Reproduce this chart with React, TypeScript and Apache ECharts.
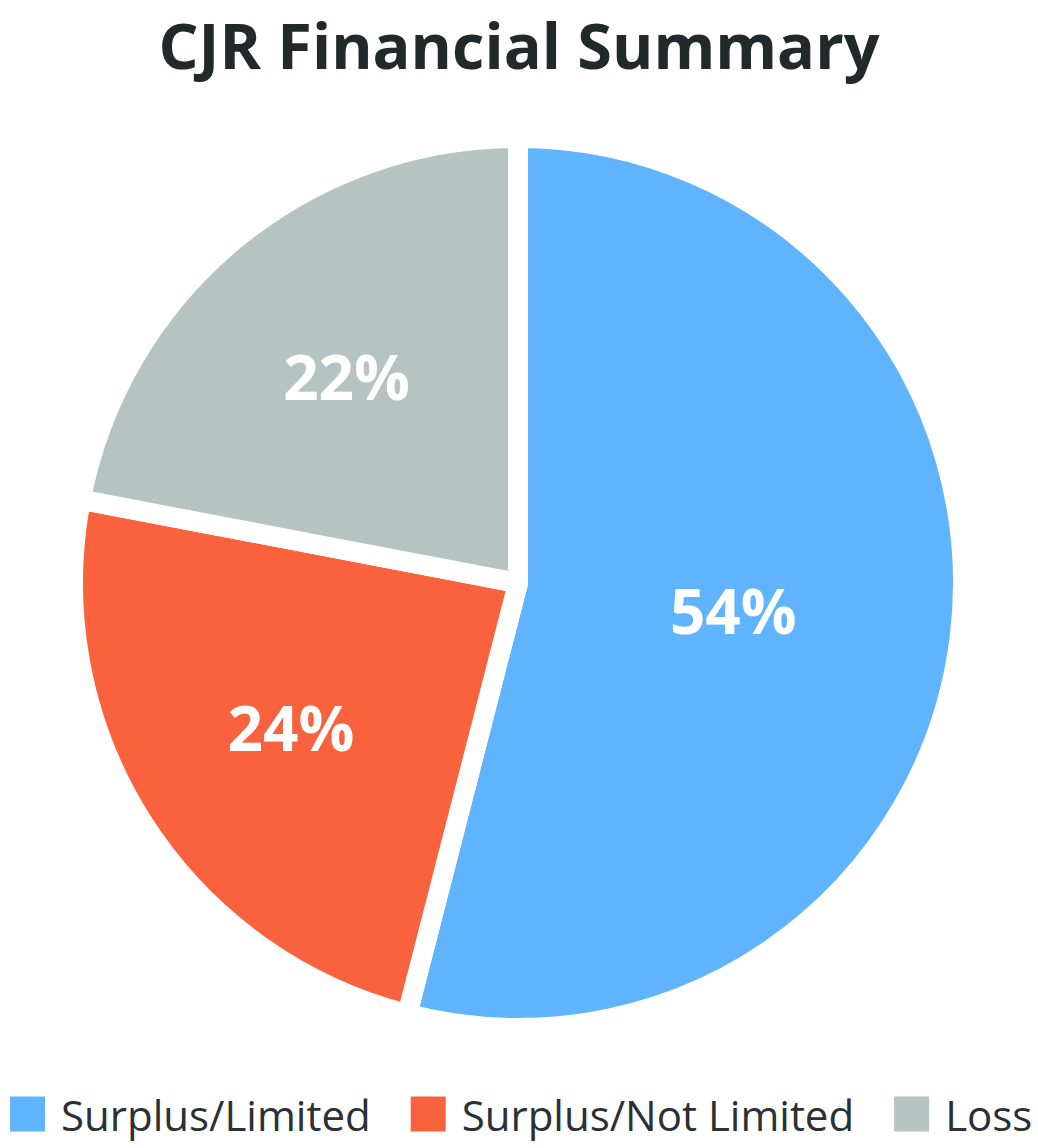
import React, { useEffect, useRef } from "react";
import * as echarts from "echarts";

const categories = ["Surplus/Limited", "Surplus/Not Limited", "Loss"];
const values = [54, 24, 22];
const colors = ["#60B4FE", "#F9623C", "#B5C4C2"];
const titleText = "CJR Financial Summary";

export default function App() {
  const ref = useRef<HTMLDivElement>(null);
  useEffect(() => {
    document.body.style.margin = "0";
    const chart = echarts.init(ref.current!, undefined, { renderer: "svg" });
    const labelStyle = {
      position: "inside",
      formatter: "{c}%",
      color: "#ffffff",
      fontFamily: "Open Sans",
      fontWeight: "bold",
      fontSize: 62,
    };
    const labelSeries = (radius: number, showIdx: number[]) => ({
      type: "pie",
      center: [518, 583],
      radius,
      startAngle: 90,
      clockwise: true,
      silent: true,
      z: 5,
      data: categories.map((name, i) => ({
        name,
        value: values[i],
        itemStyle: { color: "rgba(0,0,0,0)" },
        label: { show: showIdx.includes(i) },
      })),
      itemStyle: { borderWidth: 0 },
      label: labelStyle,
      labelLine: { show: false },
      emphasis: { disabled: true },
    });
    chart.setOption({
      animation: false,
      title: {
        text: titleText,
        left: "center",
        top: 6,
        textStyle: {
          fontFamily: "Open Sans",
          fontWeight: "bold",
          fontSize: 63,
          lineHeight: 66,
          color: "#22292B",
        },
      },
      legend: {
        bottom: 13,
        left: 8,
        width: 1200,
        padding: 0,
        itemWidth: 37,
        itemHeight: 37,
        itemGap: 38,
        icon: "rect",
        textStyle: {
          fontFamily: "Open Sans",
          fontSize: 42,
          lineHeight: 37,
          color: "#2A3033",
          padding: [0, 0, 0, 10],
        },
        data: categories,
      },
      series: [
        {
          type: "pie",
          center: [518, 583],
          radius: 445,
          startAngle: 90,
          clockwise: true,
          data: categories.map((name, i) => ({
            name,
            value: values[i],
            itemStyle: { color: colors[i] },
          })),
          itemStyle: { borderColor: "#ffffff", borderWidth: 20 },
          label: { show: false },
          labelLine: { show: false },
          emphasis: { disabled: true },
        },
        labelSeries(428, [0]),
        labelSeries(532, [1, 2]),
      ],
    });
    return () => chart.dispose();
  }, []);
  return <div ref={ref} style={{ width: 1038, height: 1148 }} />;
}
